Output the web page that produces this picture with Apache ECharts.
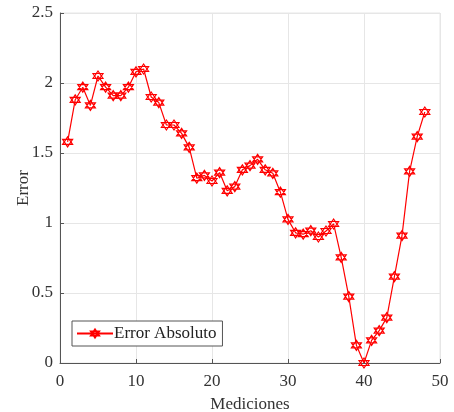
<!DOCTYPE html>
<html>
<head>
<meta charset="utf-8">
<script src="https://cdn.jsdelivr.net/npm/echarts@6/dist/echarts.min.js"></script>
<style>
  html, body { margin: 0; padding: 0; background: #fff; }
  #chart { width: 454px; height: 412px; }
</style>
</head>
<body>
<div id="chart"></div>
<script>
const mediciones = Array.from({ length: 48 }, (_, i) => i + 1)
const errorAbs = [
  1.58, 1.88, 1.97, 1.84, 2.05, 1.97, 1.91, 1.91, 1.97, 2.08,
  2.10, 1.90, 1.86, 1.70, 1.70, 1.64, 1.54, 1.32, 1.34, 1.30,
  1.36, 1.23, 1.26, 1.38, 1.41, 1.455, 1.38, 1.355, 1.22, 1.026,
  0.93, 0.92, 0.945, 0.90, 0.943, 0.993, 0.755, 0.474, 0.126, 0.0,
  0.162, 0.231, 0.324, 0.617, 0.91, 1.369, 1.617, 1.793
]
const xTicks = [0, 10, 20, 30, 40, 50]
const yTicks = [0, 0.5, 1, 1.5, 2, 2.5]

const hexagram = 'path://M0,-10L8.66,5L-8.66,5Z M0,10L8.66,-5L-8.66,-5Z'
const font = 'Liberation Serif'

const chart = echarts.init(document.getElementById('chart'))
const option = {
  animation: false,
  textStyle: { fontFamily: font },
  grid: {
    left: 60, right: 14, top: 13, bottom: 49,
    outerBoundsMode: 'none', containLabel: false,
    show: true, borderColor: '#e6e6e6', borderWidth: 1
  },
  legend: {
    data: ['Error Absoluto'],
    left: 72, top: 321,
    padding: [4, 6, 4, 4],
    borderColor: '#555', borderWidth: 1,
    backgroundColor: '#fff',
    itemWidth: 36, itemHeight: 10, itemGap: 2,
    textStyle: { fontFamily: font, fontSize: 17, color: '#222', padding: [0, 0, 0, -4] }
  },
  xAxis: {
    type: 'value',
    min: xTicks[0], max: xTicks[xTicks.length - 1], interval: 10,
    name: 'Mediciones', nameLocation: 'middle', nameGap: 33,
    nameMoveOverlap: false,
    nameTextStyle: { fontFamily: font, fontSize: 17, color: '#333' },
    axisLine: { onZero: false, lineStyle: { color: '#555', width: 1 } },
    axisTick: { inside: true, length: 4, lineStyle: { color: '#555' } },
    axisLabel: { fontFamily: font, fontSize: 17, color: '#333', margin: 10 },
    splitLine: { show: true, lineStyle: { color: '#e6e6e6', width: 1 } }
  },
  yAxis: {
    type: 'value',
    min: yTicks[0], max: yTicks[yTicks.length - 1], interval: 0.5,
    name: 'Error', nameLocation: 'middle', nameGap: 28,
    nameMoveOverlap: false,
    nameTextStyle: { fontFamily: font, fontSize: 17, color: '#333' },
    axisLine: { show: true, onZero: false, lineStyle: { color: '#555', width: 1 } },
    axisTick: { show: true, inside: true, length: 4, lineStyle: { color: '#555' } },
    axisLabel: { fontFamily: font, fontSize: 17, color: '#333', margin: 7 },
    splitLine: { show: true, lineStyle: { color: '#e6e6e6', width: 1 } }
  },
  series: [{
    name: 'Error Absoluto',
    type: 'line',
    data: mediciones.map((x, i) => [x, errorAbs[i]]),
    symbol: hexagram,
    symbolSize: 10,
    lineStyle: { color: '#ff0000', width: 1.2 },
    itemStyle: { color: 'rgba(255,255,255,0.7)', borderColor: '#ff0000', borderWidth: 1.2 }
  }]
}
chart.setOption(option)
</script>
</body>
</html>
